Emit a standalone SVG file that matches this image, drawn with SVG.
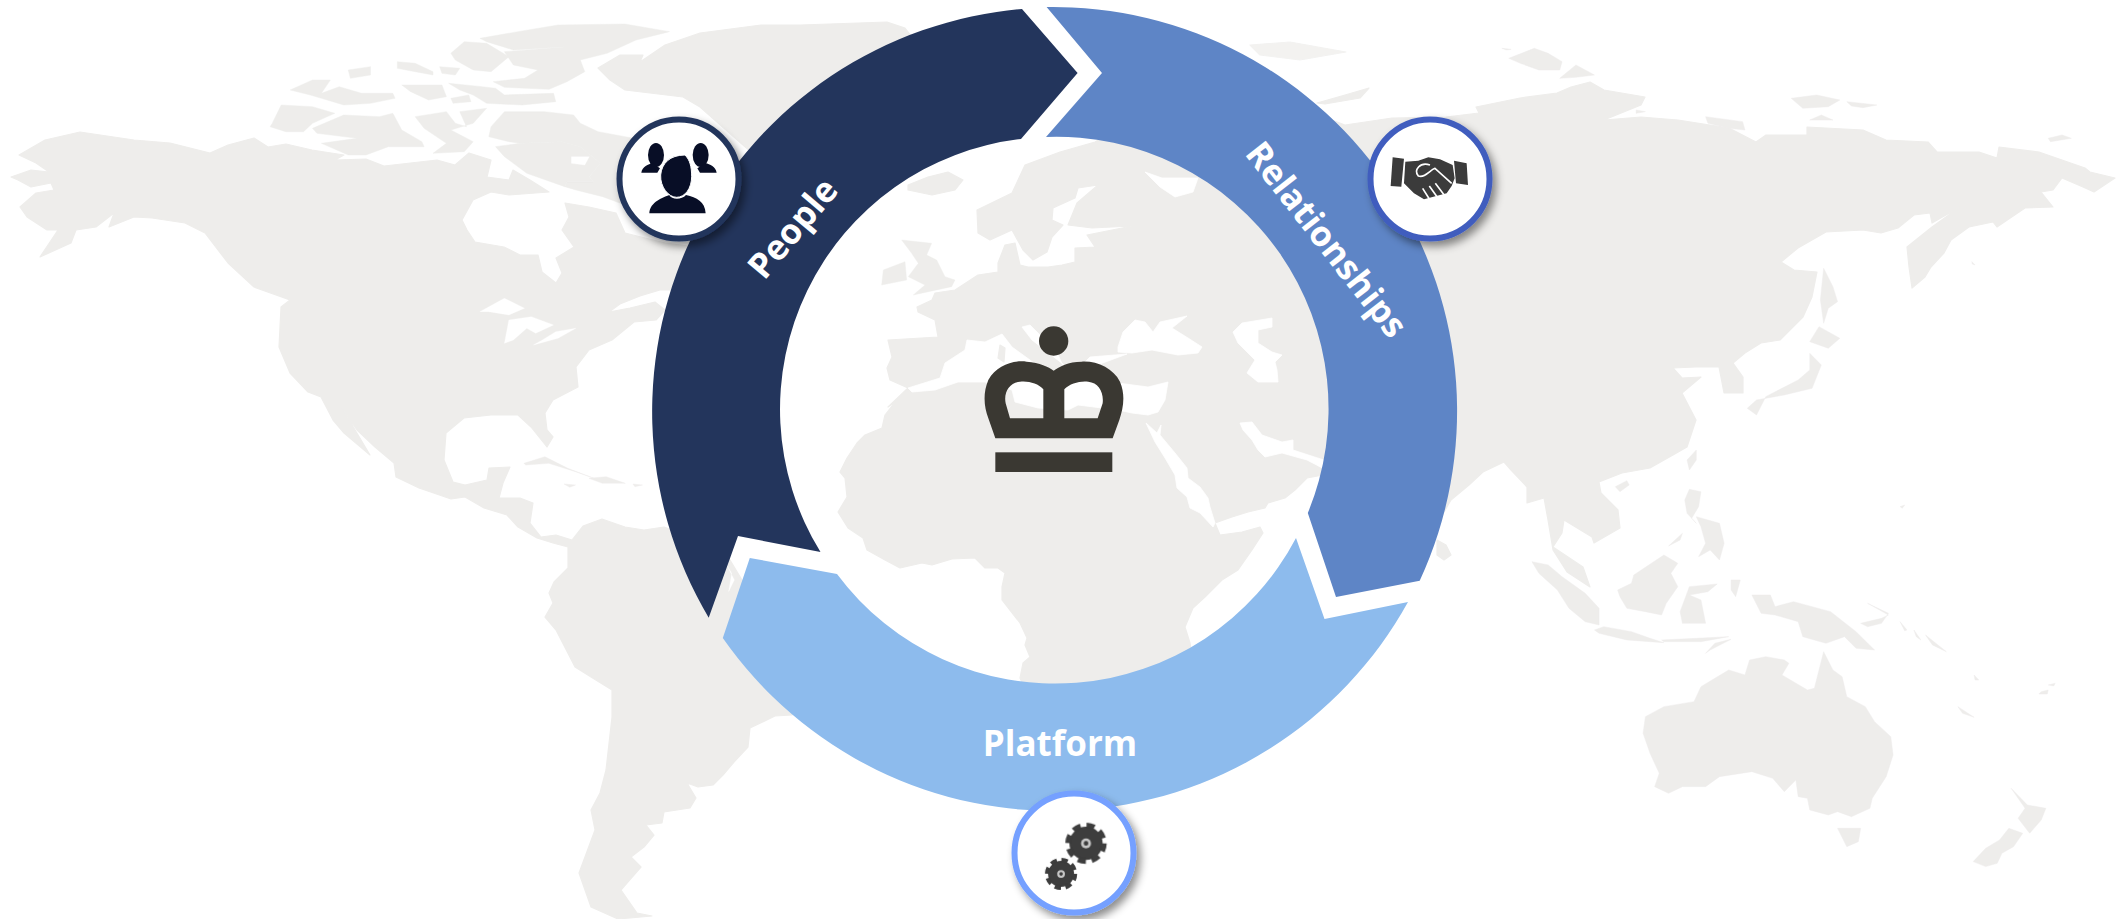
<svg xmlns="http://www.w3.org/2000/svg" xmlns:xlink="http://www.w3.org/1999/xlink" width="2126" height="919" viewBox="0 0 2126 919">
<style>
.land{fill:#EEEDEB;stroke:#EEEDEB;stroke-width:1.2;stroke-linejoin:round}
.sea{fill:#FFFFFF;stroke:#FFFFFF;stroke-width:.8;stroke-linejoin:round}
.lbl{font-family:"Open Sans","Noto Sans","Liberation Sans",sans-serif;font-weight:700;font-size:35px;fill:#FFFFFF;text-anchor:middle}
.badge{fill:#FFFFFF;stroke-width:6;filter:url(#sh)}
.ink{fill:#3A3832}
</style>
<defs>
<filter id="sh" x="-20%" y="-20%" width="150%" height="150%"><feDropShadow dx="4" dy="5" stdDeviation="4" flood-color="#000" flood-opacity=".45"/></filter>
<filter id="soft"><feGaussianBlur stdDeviation="1.6"/></filter>
<clipPath id="gearclip"><rect x="100" y="100" width="250" height="228"/></clipPath>
<g id="gear"><circle r="50" fill="#3C3C3C"/><circle r="54" fill="none" stroke="#3C3C3C" stroke-width="16" stroke-dasharray="24.4 18"/><circle r="15" fill="#C9C9C9"/><circle r="7" fill="#3C3C3C"/></g>
</defs>
<rect width="2126" height="919" fill="#FFFFFF"/>
<g id="map">
<path class="land" d="M19,155 45,140 80,132 107,136 134,140 170,143 210,153 228,145 254,138 268,147 286,144 312,150 344,155 335,160 366,159 384,166 437,160 455,165 469,153 491,160 487,177 509,180 513,170 530,180 549,192 509,195 491,192 473,200 462,220 467,230 475,242 504,247 520,255 538,255 542,272 556,283 562,273 556,258 574,247 562,230 569,217 565,203 589,207 616,213 625,233 665,243 720,250 700,290 660,290 640,296 620,304 609,312 630,308 655,302 665,310 656,320 634,322 612,340 589,350 576,367 578,387 553,400 545,413 547,430 553,437 547,447 531,427 518,415 491,415 464,418 446,433 444,460 453,482 465,485 487,480 489,468 510,467 503,483 499,498 520,498 533,503 530,523 541,537 556,535 572,540 583,526 602,519 625,527 644,530 664,527 700,540 730,560 745,585 800,640 850,680 792,715 775,716 750,728 748,747 734,762 723,775 713,785 698,787 687,783 696,798 690,808 664,812 662,823 646,825 654,835 644,847 631,857 641,867 627,883 621,890 637,913 652,916 618,919 591,907 579,873 595,830 591,810 600,793 606,770 612,717 612,690 591,677 575,667 556,630 545,617 553,603 549,593 554,582 568,568 568,547 553,543 537,538 518,527 507,515 484,508 465,497 451,499 419,488 396,477 394,463 375,447 357,430 342,408 370,455 344,433 333,420 321,397 308,392 290,373 279,347 281,307 290,300 254,287 228,263 205,233 185,223 152,218 134,217 109,227 114,213 96,227 76,230 71,243 40,257 58,230 47,230 27,217 20,207 36,193 54,190 51,183 31,187 18,180 11,177 31,170 49,172 36,163Z"/>
<path class="land" d="M598,68 620,55 643,55 640,62 665,45 700,33 761,25 800,25 887,22 905,28 930,60 830,200 760,160 700,107 683,97 625,90 610,80Z"/>
<g transform="scale(.4464 .3333)" class="land">
<path d="M1075,115 1160,95 1250,75 1400,72 1500,95 1425,120 1360,160 1300,180 1310,215 1270,245 1230,268 1130,262 1105,245 1175,235 1205,210 1150,195 1130,155 1270,140 1150,150 1090,125Z"/>
<path d="M650,270 700,240 740,240 720,280 760,260 810,280 880,280 885,295 830,310 770,315 720,295 695,285Z"/>
<path d="M780,210 830,200 830,225 785,235Z"/>
<path d="M890,185 930,190 970,215 970,225 930,215 890,205Z"/>
<path d="M985,200 1030,205 1020,225 990,220Z"/>
<path d="M1010,160 1040,125 1090,130 1140,170 1100,215 1060,210 1020,180Z"/>
<path d="M1005,250 1080,260 1110,265 1130,285 1240,280 1245,305 1170,315 1090,310 1060,285 1030,270Z"/>
<path d="M900,255 990,255 1000,290 960,300 920,275Z"/>
<path d="M1010,295 1050,285 1055,305 1015,310Z"/>
<path d="M610,370 630,315 700,320 750,340 700,370 680,395 640,395 605,380Z"/>
<path d="M700,385 770,345 850,350 880,340 900,390 945,425 950,440 870,440 820,465 780,465 720,430 800,415 710,400Z"/>
<path d="M930,350 1000,335 1020,370 1045,380 1030,335 1090,325 1060,370 1010,390 1060,425 1040,455 970,460 1000,430 950,385Z"/>
<path d="M1100,380 1130,335 1220,335 1285,345 1300,370 1340,395 1440,420 1568,500 1620,620 1400,615 1350,590 1290,570 1265,560 1270,545 1330,545 1320,530 1345,490 1300,440 1260,425 1165,430 1140,425 1095,410Z"/>
<path d="M1110,440 1165,430 1260,425 1300,440 1345,490 1320,530 1330,545 1270,545 1265,560 1180,520 1130,470Z"/>
</g>
<g transform="scale(.4464 .3333)" class="sea">
<path d="M1075,935 1130,895 1175,925 1140,945 1095,935Z"/>
<path d="M1130,1030 1140,960 1190,950 1240,975 1200,1000 1180,985 1150,1020Z"/>
<path d="M1195,1035 1250,1015 1290,985 1245,995 1215,1020Z"/>
<path d="M1280,470 1320,470 1310,495 1280,490Z"/>
<path d="M1185,605 1210,595 1195,612Z"/>
<path d="M1235,620 1250,610 1245,628Z"/>
</g>
<g transform="translate(300 440) scale(.3827 .3333)" class="sea">
<path d="M1115,375 1135,420 1120,455 1128,400Z"/>
</g>
<g transform="translate(300 440) scale(.3827 .3333)" class="land">
<path d="M585,70 640,50 700,85 780,120 720,95 650,70 590,75Z"/>
<path d="M755,115 800,110 850,130 790,130Z"/>
<path d="M690,132 720,135 705,142Z"/>
<path d="M870,132 895,135 875,140Z"/>
</g>
<path class="land" d="M1095,142 1130,122 1300,108 1345,125 1392,118 1446,117 1479,113 1476,107 1520,98 1557,93 1571,87 1590,82 1604,90 1645,97 1641,105 1604,120 1641,117 1678,120 1729,128 1756,142 1766,135 1807,135 1807,127 1863,130 1886,140 1928,142 1937,152 1979,152 1997,158 1999,147 2039,152 2085,168 2090,172 2115,178 2094,192 2083,187 2062,178 2053,190 2041,192 2053,207 2025,208 1997,227 1993,222 1969,227 1951,240 1944,253 1931,267 1925,277 1912,288 1909,267 1907,247 1932,227 1960,207 1932,223 1930,213 1914,215 1898,228 1881,233 1863,230 1826,232 1812,240 1798,248 1781,262 1794,270 1817,272 1812,297 1803,317 1780,340 1761,343 1745,353 1733,363 1743,377 1743,393 1724,393 1719,367 1696,367 1673,368 1682,378 1701,377 1682,393 1696,420 1687,447 1673,455 1650,468 1622,473 1599,482 1601,493 1618,510 1620,528 1594,543 1592,537 1564,520 1562,533 1553,547 1583,567 1590,587 1567,572 1553,550 1548,520 1544,498 1527,503 1527,487 1511,470 1504,462 1483,472 1469,485 1451,500 1425,545 1395,575 1350,470 1307,478 1295,490 1285,498 1268,503 1265,508 1248,512 1232,517 1215,523 1220,535 1242,532 1260,527 1263,533 1252,550 1238,570 1222,580 1205,597 1193,608 1185,627 1190,643 1200,700 1120,760 1030,700 1020,678 1023,663 1030,657 1025,645 1027,638 1020,623 1002,600 1002,587 1005,573 998,568 985,568 975,558 952,559 932,565 922,563 900,568 885,560 867,550 863,538 848,528 838,512 847,497 845,478 840,472 847,458 857,443 865,435 882,428 885,415 895,402 888,407 908,388 890,380 887,368 892,357 888,340 938,337 935,320 918,312 917,307 932,300 935,293 955,290 978,275 998,272 998,263 1005,245 1015,243 1020,265 1028,267 1048,267 1062,265 1075,262 1075,248 1095,247 1087,235 1102,232 1132,226 1092,228 1068,225 1077,203 1098,185 1078,188 1075,198 1053,208 1052,220 1063,225 1052,237 1047,252 1033,260 1023,250 1012,230 990,240 978,233 977,210 1012,193 1025,165 1060,152Z"/>
<g class="sea">
<path d="M908,388 940,378 945,363 965,350 967,340 985,342 1002,334 1012,347 1030,360 1048,374 1056,384 1060,372 1068,368 1050,354 1032,340 1022,327 1030,325 1045,340 1058,355 1066,372 1075,380 1082,365 1090,357 1127,354 1100,364 1090,372 1102,382 1118,383 1148,387 1168,382 1165,400 1158,412 1148,415 1132,413 1118,410 1078,405 1068,410 1038,408 1015,402 1012,390 985,382 958,382 935,390 912,392Z"/>
<path d="M1118,347 1123,332 1135,320 1145,322 1153,332 1160,322 1187,316 1172,328 1188,338 1202,347 1198,353 1178,355 1152,350 1132,353 1118,352Z"/>
<path d="M1233,332 1242,323 1272,318 1272,327 1258,330 1258,343 1272,352 1282,355 1275,362 1277,370 1278,382 1258,382 1247,373 1255,360 1238,343Z"/>
<path d="M1145,172 1162,178 1198,178 1193,192 1175,197 1160,187Z"/>
<path d="M1146,423 1157,433 1161,425 1160,435 1175,453 1187,468 1188,478 1200,487 1208,498 1210,507 1215,523 1213,527 1200,513 1190,508 1187,497 1177,488 1175,475 1165,458 1155,442Z"/>
<path d="M1240,423 1252,422 1262,435 1282,442 1293,440 1293,450 1330,462 1330,472 1307,460 1282,453 1265,457 1258,450 1252,440 1243,430Z"/>
</g>
<g class="land">
<path d="M1000,345 1005,348 1004,362 998,358Z"/>
<path d="M1040,385 1055,383 1052,392Z"/>
<path d="M908,185 928,177 948,172 963,180 955,190 932,195 908,190Z"/>
<path d="M1317,103 1345,95 1369,88 1360,98 1325,104Z"/>
<path d="M1437,540 1446,545 1451,555 1444,560 1437,555Z"/>
<path d="M1250,45 1290,42 1346,52 1300,60 1260,55Z" opacity=".7"/>
</g>
<g transform="translate(785 130) scale(.3333)" class="land">
<path d="M350,330 440,340 425,375 455,390 480,440 510,450 500,470 385,495 420,465 370,440 400,400 380,370Z"/>
<path d="M295,420 360,395 365,450 290,465Z"/>
</g>
<g transform="translate(1400 0) scale(.463 .3333)" class="land">
<path d="M235,175 290,145 320,160 350,185 345,210 300,210 260,190Z"/>
<path d="M345,235 380,195 420,225 380,232Z"/>
<path d="M220,145 240,148 230,150Z"/>
<path d="M845,295 900,285 950,300 925,320 870,325Z"/>
<path d="M965,305 1030,315 1000,323 975,318Z"/>
<path d="M885,360 910,345 935,360Z"/>
<path d="M660,350 740,365 745,390 710,385 665,370Z"/>
<path d="M510,330 530,335 510,340Z"/>
<path d="M1400,415 1430,405 1450,415 1405,425Z"/>
<path d="M915,805 935,860 945,905 925,925 915,970 908,900Z"/>
<path d="M905,980 950,1015 925,1045 885,1025Z"/>
<path d="M885,1060 910,1095 890,1165 830,1185 770,1200 750,1225 770,1245 790,1190 860,1140 885,1110Z"/>
<path d="M1235,785 1242,795 1236,792Z"/>
</g>
<g transform="translate(1400 440) scale(.463 .3333)" class="land">
<path d="M620,60 640,30 640,60 625,90Z"/>
<path d="M465,140 490,122 495,135 475,155Z"/>
<path d="M615,180 625,148 650,155 645,200 630,235 640,250 620,220Z"/>
<path d="M640,230 690,250 700,310 690,360 670,330 645,350 660,310 650,260Z"/>
<path d="M580,318 610,280 605,300Z"/>
<path d="M470,450 500,430 505,405 570,345 600,370 585,400 600,440 575,490 565,525 530,515 490,505 475,470Z"/>
<path d="M285,365 320,375 350,410 400,460 430,505 430,555 400,545 365,505 340,450 300,400Z"/>
<path d="M420,570 440,560 500,575 540,595 570,608 490,600 430,580Z"/>
<path d="M565,600 640,595 710,590 650,605 570,605Z"/>
<path d="M660,640 680,610 715,598 670,630Z"/>
<path d="M605,515 625,440 685,432 665,455 625,465 650,480 660,550 625,550 610,550Z"/>
<path d="M715,420 735,420 725,470 715,450Z"/>
<path d="M760,465 800,465 810,500 850,485 930,515 985,575 1025,630 985,625 960,590 920,610 870,590 860,545 810,525 780,520Z"/>
<path d="M995,550 1040,535 1055,525 1010,490 1055,520 1040,550 1010,560Z"/>
<path d="M1080,545 1095,570 1090,572Z"/>
<path d="M1110,570 1125,600 1115,590Z"/>
<path d="M1135,585 1180,635 1150,615Z"/>
<path d="M1240,705 1250,720 1242,720Z"/>
<path d="M1205,800 1240,832 1215,820Z"/>
<path d="M1385,755 1400,750 1398,762 1380,762Z"/>
<path d="M1400,735 1415,730 1412,738Z"/>
<path d="M1080,200 1090,195 1085,205Z"/>
<path d="M530,830 570,800 635,785 650,740 680,715 710,690 745,705 755,660 790,650 830,660 840,670 825,705 880,750 895,745 905,690 915,635 935,690 955,710 965,770 1005,800 1025,845 1060,890 1065,945 1050,1010 1020,1075 1015,1105 975,1130 945,1115 925,1125 885,1110 880,1075 860,1070 855,1020 830,1055 805,1015 760,995 690,1010 660,1040 610,1040 580,1060 550,1040 560,1000 540,940 525,880Z"/>
<path d="M945,1165 995,1165 990,1205 965,1220Z"/>
<path d="M1320,1045 1355,1095 1395,1105 1385,1140 1360,1180 1335,1135 1350,1105Z"/>
<path d="M1315,1165 1345,1180 1325,1220 1300,1240 1290,1270 1265,1280 1238,1265 1265,1225 1295,1200Z"/>
</g>
</g>
<g id="node-crown" class="ink" transform="translate(960 310) scale(.3333)">
<circle cx="281" cy="93" r="44"/>
<path fill-rule="evenodd" d="M106,385 L85,325 C72,290 68,250 85,210 C110,165 160,150 200,155 C240,158 265,170 281,182 C297,170 325,155 365,155 C410,152 460,175 480,215 C497,255 490,295 478,330 L458,385Z M150,325 L250,325 L250,238 C235,220 205,212 180,215 C150,218 130,245 137,280Z M313,325 L413,325 L428,280 C432,245 415,218 385,215 C360,212 330,220 313,238Z"/>
<rect x="106" y="427" width="351" height="59"/>
</g>
<g id="node-people">
<path fill="#23355C" d="M1022,9 L1077.6,73 L1021,139 A272,272 0 0 0 820.5,552 L738,536 L708.7,617.7 A404,404 0 0 1 1022,9Z"/>
<text class="lbl" transform="translate(802 236) rotate(-50)">People</text>
</g>
<g id="node-relationships">
<path fill="#5E85C6" d="M1046.6,7 L1102,73 L1046,137 A272,272 0 0 1 1307.8,513 L1336,597 L1419.7,580.7 A404,404 0 0 0 1046.6,7Z"/>
<text class="lbl" transform="translate(1317 247) rotate(52)">Relationships</text>
</g>
<g id="node-platform">
<path fill="#8DBBED" d="M1296,538 L1324.5,619 L1408,602 A404,404 0 0 1 722.8,638 L749.8,558 L837,574 A272,272 0 0 0 1296,538Z"/>
<text class="lbl" x="1060" y="756">Platform</text>
</g>
<g id="badge-people">
<circle class="badge" cx="679" cy="179" r="59.5" stroke="#23355C"/>
<g transform="translate(600 100) scale(.3333)" fill="#080E26">
<ellipse cx="168" cy="165" rx="24" ry="36"/><ellipse cx="302" cy="165" rx="24" ry="36"/>
<path d="M124,218 C127,200 145,192 158,190 L180,205 L172,218Z M350,218 C347,200 330,192 316,190 L292,205 L300,218Z"/>
<path d="M148,340 C150,305 190,292 208,285 C215,300 245,300 258,285 C290,292 315,305 317,340Z"/>
<path d="M182,225 C185,190 210,165 255,165 C270,180 275,200 275,230 C275,265 255,292 230,292 C205,292 180,260 182,225Z" stroke="#FFF" stroke-width="3"/>
</g>
</g>
<g id="badge-relationships">
<circle class="badge" cx="1430" cy="179" r="59.5" stroke="#3F5DBE"/>
<g transform="translate(1350 100) scale(.3333)" filter="url(#soft)">
<path fill="#3A3A3A" d="M128,172 162,176 154,260 122,258Z M312,182 350,190 354,255 318,250Z M166,185 205,182 235,172 270,178 308,195 314,235 305,258 290,280 222,298 192,280 162,250Z"/>
<path fill="none" stroke="#FFF" stroke-width="5" d="M240,195 C210,185 190,210 205,228 C225,235 240,210 255,205 L305,250 M218,265 L238,297 M238,258 L262,292 M256,250 L282,284"/>
</g>
</g>
<g id="badge-platform">
<circle class="badge" cx="1074" cy="853" r="59.5" stroke="#74A0FF"/>
<g clip-path="url(#gearclip)" transform="translate(1000 780) scale(.3333)">
<g filter="url(#soft)">
<use href="#gear" xlink:href="#gear" transform="translate(258 190)"/>
<use href="#gear" xlink:href="#gear" transform="translate(183 282) scale(.78)"/>
</g>
</g>
</g>
</svg>
